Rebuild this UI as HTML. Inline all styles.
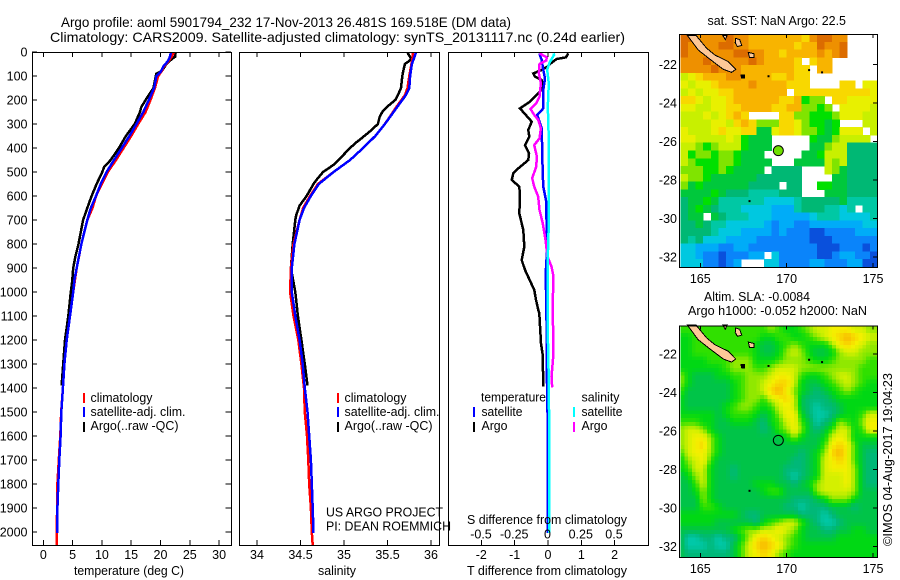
<!DOCTYPE html>
<html><head><meta charset="utf-8"><title>Argo profile</title>
<style>
html,body{margin:0;padding:0;background:#fff}
svg{display:block}
text{font-family:"Liberation Sans",sans-serif;font-size:12.5px;fill:#000}
.ttl{font-size:14px}
</style></head><body>
<svg id="chart" xmlns="http://www.w3.org/2000/svg" width="900" height="580" viewBox="0 0 900 580">
<rect width="900" height="580" fill="#fff"/>
<text class="ttl" x="61" y="27" textLength="450" lengthAdjust="spacingAndGlyphs">Argo profile: aoml 5901794_232 17-Nov-2013 26.481S 169.518E (DM data)</text>
<text class="ttl" x="50" y="42" textLength="575" lengthAdjust="spacingAndGlyphs">Climatology: CARS2009. Satellite-adjusted climatology: synTS_20131117.nc (0.24d earlier)</text>
<g id="profiles"></g>
<g id="maps"></g>

<g>
<rect x="83" y="393" width="2" height="10" fill="#f00"/>
<rect x="83" y="407" width="2" height="10" fill="#00f"/>
<rect x="83" y="422" width="2" height="10" fill="#000"/>
<text x="90.5" y="402" textLength="62" lengthAdjust="spacingAndGlyphs">climatology</text>
<text x="90.5" y="416" textLength="95" lengthAdjust="spacingAndGlyphs">satellite-adj. clim.</text>
<text x="90.5" y="430" textLength="88" lengthAdjust="spacingAndGlyphs">Argo(..raw -QC)</text>
</g>
<g>
<rect x="337" y="393" width="2" height="10" fill="#f00"/>
<rect x="337" y="407" width="2" height="10" fill="#00f"/>
<rect x="337" y="422" width="2" height="10" fill="#000"/>
<text x="344.5" y="402" textLength="62" lengthAdjust="spacingAndGlyphs">climatology</text>
<text x="344.5" y="416" textLength="95" lengthAdjust="spacingAndGlyphs">satellite-adj. clim.</text>
<text x="344.5" y="430" textLength="88" lengthAdjust="spacingAndGlyphs">Argo(..raw -QC)</text>
</g>
<text x="326" y="516.5" textLength="117" lengthAdjust="spacingAndGlyphs">US ARGO PROJECT</text>
<text x="326" y="530.5" textLength="125" lengthAdjust="spacingAndGlyphs">PI: DEAN ROEMMICH</text>
<g>
<text x="481" y="401.5" textLength="65" lengthAdjust="spacingAndGlyphs">temperature</text>
<rect x="473" y="407" width="2" height="10" fill="#00f"/>
<rect x="473" y="422" width="2" height="10" fill="#000"/>
<text x="481.5" y="416" textLength="41" lengthAdjust="spacingAndGlyphs">satellite</text>
<text x="481.5" y="430" textLength="26" lengthAdjust="spacingAndGlyphs">Argo</text>
<text x="581.5" y="401.5" textLength="38" lengthAdjust="spacingAndGlyphs">salinity</text>
<rect x="573" y="407" width="2" height="10" fill="#0ff"/>
<rect x="573" y="422" width="2" height="10" fill="#f0f"/>
<text x="581.5" y="416" textLength="41" lengthAdjust="spacingAndGlyphs">satellite</text>
<text x="581.5" y="430" textLength="26" lengthAdjust="spacingAndGlyphs">Argo</text>
</g>
<text x="467" y="524" textLength="160" lengthAdjust="spacingAndGlyphs">S difference from climatology</text>
<text x="467" y="575" textLength="160" lengthAdjust="spacingAndGlyphs">T difference from climatology</text>
<text x="74" y="575" textLength="110" lengthAdjust="spacingAndGlyphs">temperature (deg C)</text>
<text x="318" y="575" textLength="38" lengthAdjust="spacingAndGlyphs">salinity</text>
<text x="707.5" y="25" textLength="138.5" lengthAdjust="spacingAndGlyphs">sat. SST: NaN Argo: 22.5</text>
<text x="704" y="301" textLength="106" lengthAdjust="spacingAndGlyphs">Altim. SLA: -0.0084</text>
<text x="688" y="315" textLength="179" lengthAdjust="spacingAndGlyphs">Argo h1000: -0.052 h2000: NaN</text>
<text transform="translate(892,546) rotate(-90)" x="0" y="0" textLength="173" lengthAdjust="spacingAndGlyphs">©IMOS 04-Aug-2017 19:04:23</text>
</svg>
<script>
// ---------- chart data ----------
const depthTicks = [0,100,200,300,400,500,600,700,800,900,1000,1100,1200,1300,1400,1500,1600,1700,1800,1900,2000];
const tempTicks = [0,5,10,15,20,25,30];
const salTicks = [34,34.5,35,35.5,36];
const salTickLabels = ['34','34.5','35','35.5','36'];
const tDiffTicks = [-2,-1,0,1,2];
const sDiffTicks = [-0.5,-0.25,0,0.25,0.5];
const sDiffTickLabels = ['-0.5','-0.25','0','0.25','0.5'];
const lonTicks = [165,170,175];
const latTicks = [-22,-24,-26,-28,-30,-32];

const tClimDepth = [0,20,40,60,80,100,150,200,250,300,350,400,450,500,550,600,650,700,800,900,1000,1100,1200,1300,1400,1500,1600,1700,1800,1900,2000,2054];
const tClimValue = [22.3,21.9,21.3,20.6,20.2,19.6,19.05,18.3,17.45,16.2,15,13.7,12.4,11,10,9,8.4,7.5,6.5,5.7,5.1,4.55,4,3.6,3.35,3.05,2.9,2.65,2.4,2.35,2.3,2.25];
const tSatDepth = [0,20,40,60,80,100,150,200,250,300,350,400,450,500,550,600,650,700,750,800,850,900,950,1000,1100,1200,1300,1400,1500,1600,1700,1800,1900,2004];
const tSatValue = [21.8,21.6,21.2,20.5,20.1,19.3,18.9,18,17.06,15.9,14.7,13.4,12.06,10.8,9.8,9,8.1,7.5,7,6.5,6.1,5.7,5.3,5.1,4.55,4,3.6,3.35,3.07,2.96,2.73,2.56,2.4,2.4];
const tArgoDepth = [0,20,30,50,80,90,100,150,200,230,250,300,350,400,450,480,500,550,600,650,700,750,800,850,900,950,1000,1100,1200,1300,1390];
const tArgoValue = [22.6,22.5,21.9,21,20.2,19.3,19.2,18.8,17.46,16.7,16.5,15.6,14.1,12.9,11.5,10.35,10.07,9.1,8.25,7.5,6.8,6.4,6,5.5,5.1,4.95,4.7,4.27,3.7,3.4,3.13];

const sClimDepth = [0,20,40,100,150,180,220,300,350,400,450,500,550,600,650,700,800,900,1000,1100,1200,1300,1400,1500,1600,1700,1800,1900,2000,2054];
const sClimValue = [35.79,35.79,35.78,35.75,35.73,35.7,35.62,35.47,35.36,35.22,35.07,34.88,34.7,34.61,34.53,34.49,34.42,34.39,34.38,34.42,34.475,34.51,34.54,34.55,34.575,34.59,34.6,34.62,34.63,34.64];
const sSatDepth = [0,20,50,100,150,180,220,300,350,400,450,500,550,600,650,700,800,900,1000,1100,1200,1300,1400,1500,1600,1700,1800,1900,2004];
const sSatValue = [35.83,35.81,35.78,35.76,35.75,35.71,35.63,35.47,35.36,35.22,35.07,34.88,34.71,34.62,34.54,34.49,34.43,34.4,34.4,34.44,34.49,34.525,34.55,34.58,34.6,34.62,34.63,34.64,34.65];
const sArgoDepth = [0,10,20,30,40,50,80,100,150,180,200,230,250,270,300,330,360,380,400,430,470,500,530,550,600,640,680,700,800,900,1000,1100,1200,1300,1390];
const sArgoValue = [35.73,35.74,35.76,35.77,35.74,35.7,35.68,35.67,35.655,35.62,35.59,35.49,35.44,35.41,35.39,35.3,35.2,35.13,35.07,34.99,34.88,34.76,34.69,34.65,34.57,34.49,34.45,34.44,34.41,34.39,34.44,34.47,34.51,34.55,34.58];

const dtArgoDepth = [6,22,29,44,61,75,89,103,117,131,158,172,207,235,290,325,353,388,422,450,485,506,533,561,603,672,742,811,867,908,992,1033,1075,1089,1214,1262,1394];
const dtArgoValue = [0.61,0.54,0.26,0.11,-0.02,-0.19,-0.44,-0.39,-0.19,-0.16,-0.19,-0.29,-0.54,-0.84,-0.49,-0.59,-0.56,-0.69,-0.57,-0.59,-0.89,-1.04,-1.09,-0.86,-0.84,-0.86,-0.74,-0.71,-0.79,-0.69,-0.41,-0.36,-0.29,-0.26,-0.21,-0.16,-0.14];
const dtSatDepth = [6,33,75,110,158,235,262,318,506,561,617,728,853,922,1061,1172,1381,1547,1804,2005];
const dtSatValue = [-0.26,-0.19,-0.14,-0.09,-0.14,-0.14,-0.32,-0.19,-0.16,-0.14,-0.06,-0.04,-0.04,-0.07,-0.05,-0.04,-0.03,-0.01,-0.01,-0.01];
const dsArgoDepth = [6,22,36,50,89,131,186,214,237,262,283,318,360,388,436,478,526,561,603,658,714,783,853,894,936,1033,1089,1256,1353,1397];
const dsArgoValue = [-0.06,-0.005,-0.01,-0.06,-0.065,-0.05,-0.06,-0.085,-0.128,-0.1,-0.07,-0.05,-0.06,-0.1,-0.08,-0.085,-0.115,-0.1,-0.07,-0.06,-0.035,-0.015,0,0.03,0.045,0.04,0.04,0.045,0.03,0.035];
const dsSatDepth = [6,12,44,75,131,228,367,575,714,853,1061,1172,1381,1589,1867,2005];
const dsSatValue = [0.045,0.05,0.015,-0.002,0.01,0.002,0.01,0.01,0.01,0.002,0.002,0.002,0.01,0.0125,0.0125,0.0125];

// SST grid, north to south, coded temperature classes ('.' = no data)
const sstRows = [
"oonnnnonnmmmmmmmlnoonn....",
"onnnnoonnmmmmmmlmmonno....",
"onnnnnnoonnmmlmmmmnmno....",
"nnnonnnnnonmmmml.lmm......",
"nnnnonnnmmmmmmmll.mm......",
"jklmmmnnmmmmllmll.........",
"kjkklmmmmnmmmmlll....ll.kk",
"jkjkkllmmmmmmm.llllllllllk",
"llkjkklmmmmmmllmhii.llkkkk",
"kkjjkkllmmmmllmmiihi.kkkkj",
"jjjkjklml....lliihhhikkkjj",
"jjjjkkjlmliiillkihhgh...jj",
"kjjjklkkllggkllkiihghkkk.j",
"kkjjjjkjhggg.....hggijjjj.",
"jjihijjjhggg.....ggijjffff",
"jhiihiihggg.....gghjjjffff",
"jihhhiihgggg...ggggjijffff",
"iiihhihgggg.ffff...jigffff",
"jiihggggggffffff....ggffff",
"ighggggggffff.ff..hhggffff",
"gggghgfffeeeefff...gggffff",
"fgghgeeeeeeddddefffffgeeee",
"fghgfeeeddddcccefffeede.ee",
"fgg.gfeeedddcccccdeeedddde",
"ffgfeedddddcbccbbcccccccdd",
"ffffedddccccbcbbbaabbbbccc",
"fefdddccccbbbbbbbaaabbbbbb",
"ddcccbbccbbbbbbbbbaaabbbab",
"ddcbbabbbcc.dbbbbbaabccbba",
"dddbbabc...ddbbbbccbbbccaa"
];
// Sea-level-anomaly grid, north to south, coded 0 (low) .. 9 (high)
const slaRows = [
"4444444444 44543345 66777665",
"3344444444 43344334 56789876",
"3344444444 32234543 33578765",
"3344444444 32235653 22356655",
"3333444555 33345554 33455554",
"3333334555 44566655 55555544",
"5322233445 55677643 34566544",
"5322222345 56788632 23456543",
"4222222345 56897532 12345433",
"3222222345 54678621 11233333",
"3222223455 43467621 01123333",
"3333323444 32357731 00123346",
"4443322333 21346742 01254357",
"5665322222 21245752 12466347",
"5677532222 22223532 23676333",
"5678532222 22222222 24787422",
"4677532222 22222212 35897421",
"3567422222 22222112 36787421",
"3466322122 22221112 36777521",
"2356322122 22221012 36667521",
"2246322222 33322123 56667521",
"2235322222 23442222 56666522",
"2225322222 22222111 23555322",
"2224432222 22221101 11222122",
"3333333321 12222211 10122222",
"3333322222 13456642 10012222",
"2222222345 56676532 21122332",
"2001101135 78765432 22233333",
"2000100246 89875433 33333333",
"2111111246 78754333 33333333"
];
const sstPalette = {a:'#0a50dc',b:'#0a84fa',c:'#00acf8',d:'#00c8e0',e:'#00c8a4',f:'#00b874',g:'#00c83c',h:'#00e000',i:'#80e400',j:'#c8f000',k:'#e8f000',l:'#f8d800',m:'#f8b400',n:'#ee9000',o:'#dc6c00'};
const slaPalette = ['#00c8a8','#00b878','#00c448','#00d814','#30e000','#90e800','#d4f000','#f4f000','#f8d400','#f8b400'];

// Geography (lon, lat)
const mainLand = [[164.25,-20.5],[164.75,-20.5],[165.37,-21.17],[165.85,-21.52],[166.62,-21.86],[167.05,-22.26],[166.81,-22.42],[166.33,-22.26],[165.56,-21.74],[164.88,-21.26]];
const lifouIsland = [[167.05,-20.65],[167.28,-20.72],[167.4,-21.02],[167.15,-21.08],[167.02,-20.88]];
const mareIsland = [[167.78,-21.38],[168.1,-21.45],[168.1,-21.65],[167.85,-21.65]];
const ouveaIsland = [[166.3,-20.5],[166.55,-20.5],[166.45,-20.72]];
const pinesIsland = [[167.35,-22.55],[167.55,-22.55],[167.55,-22.72],[167.4,-22.72]];
const smallIslets = [[168.95,-22.62],[171.3,-22.3],[172.05,-22.42],[167.85,-29.1]];
const argoLon = 169.518;
const argoLat = -26.481;

// ---------- drawing ----------
const NS = 'http://www.w3.org/2000/svg';
const DEPTH_Y0 = 52, DEPTH_PX = 0.24, PLOT_BOTTOM = 545;
const yDepth = d => DEPTH_Y0 + d * DEPTH_PX;
const xTemp = v => 43.3 + v * 5.86;
const xSal = v => 257 + (v - 34) * 87;
const xDT = v => 548 + v * 33.33;
const xDS = v => 547.5 + v * 133;
const panels = document.getElementById('profiles');
const mapsG = document.getElementById('maps');

function mk(parent, tag, attrs, txt){
  const e = document.createElementNS(NS, tag);
  for (const k in attrs) e.setAttribute(k, attrs[k]);
  if (txt !== undefined) e.textContent = txt;
  parent.appendChild(e);
  return e;
}
function drawFrame(parent, x0, x1, y0, y1){
  const f = mk(parent, 'rect', {x:x0, y:y0, width:x1-x0, height:y1-y0, fill:'none', stroke:'#000', 'stroke-width':1, 'shape-rendering':'crispEdges'});
  
  
}
function drawTick(parent, x1, y1, x2, y2){
  const t = mk(parent, 'line', {x1, y1, x2, y2, stroke:'#000', 'stroke-width':1, 'shape-rendering':'crispEdges'});
  
  
}
function drawLabel(parent, x, y, s, anchor){
  const t = mk(parent, 'text', {x, y, 'text-anchor':anchor}, s);
  
  
}
function drawLine(parent, depths, values, xf, color, width, name, clipId){
  const pts = depths.map((d,i) => xf(values[i]).toFixed(1) + ',' + yDepth(d).toFixed(1)).join(' ');
  const l = mk(parent, 'polyline', {points:pts, fill:'none', stroke:color, 'stroke-width':width, 'stroke-linejoin':'miter', 'shape-rendering':'crispEdges', 'clip-path':'url(#'+clipId+')'});
  
  
}
const defs = mk(panels, 'defs', {});
function clip(id, x0, x1, y0, y1){
  const c = mk(defs, 'clipPath', {id});
  mk(c, 'rect', {x:x0, y:y0, width:x1-x0, height:y1-y0});
}
clip('c1',32.5,231,52,545); clip('c2',239.5,439,52,545); clip('c3',448.5,648.5,52,545);

// Panel 1
const p1 = mk(panels, 'g', {});


drawLine(p1, tArgoDepth, tArgoValue, xTemp, '#000', 2.5, 'temperature-argo-line', 'c1');
drawLine(p1, tClimDepth, tClimValue, xTemp, '#f00', 2.5, 'temperature-climatology-line', 'c1');
drawLine(p1, tSatDepth, tSatValue, xTemp, '#00f', 2.5, 'temperature-satellite-line', 'c1');
drawFrame(p1, 32.5, 231.5, 52.5, 545.5);
tempTicks.forEach(v => {
  drawTick(p1, xTemp(v), 52, xTemp(v), 57);
  drawTick(p1, xTemp(v), 545, xTemp(v), 540);
  drawLabel(p1, xTemp(v), 559, String(v), 'middle');
});
depthTicks.forEach(d => {
  drawTick(p1, 32, yDepth(d), 37, yDepth(d));
  drawTick(p1, 225.5, yDepth(d), 231, yDepth(d));
  drawLabel(p1, 27.5, yDepth(d)+4.5, String(d), 'end');
});

// Panel 2
const p2 = mk(panels, 'g', {});


drawLine(p2, sArgoDepth, sArgoValue, xSal, '#000', 2.5, 'salinity-argo-line', 'c2');
drawLine(p2, sClimDepth, sClimValue, xSal, '#f00', 2.5, 'salinity-climatology-line', 'c2');
drawLine(p2, sSatDepth, sSatValue, xSal, '#00f', 2.5, 'salinity-satellite-line', 'c2');
drawFrame(p2, 239.5, 439.5, 52.5, 545.5);
salTicks.forEach((v,i) => {
  drawTick(p2, xSal(v), 52, xSal(v), 57);
  drawTick(p2, xSal(v), 545, xSal(v), 540);
  drawLabel(p2, xSal(v), 559, salTickLabels[i], 'middle');
});

// Panel 3
const p3 = mk(panels, 'g', {});


drawLine(p3, dtArgoDepth, dtArgoValue, xDT, '#000', 2.5, 't-difference-argo-line', 'c3');
drawLine(p3, dtSatDepth, dtSatValue, xDT, '#00f', 2.5, 't-difference-satellite-line', 'c3');
drawLine(p3, dsArgoDepth, dsArgoValue, xDS, '#f0f', 2.5, 's-difference-argo-line', 'c3');
drawLine(p3, dsSatDepth, dsSatValue, xDS, '#0ff', 2.5, 's-difference-satellite-line', 'c3');
drawFrame(p3, 448.5, 648.5, 52.5, 545.5);
tDiffTicks.forEach(v => {
  drawTick(p3, xDT(v), 52, xDT(v), 57);
  drawTick(p3, xDT(v), 545, xDT(v), 540);
  drawLabel(p3, xDT(v), 559, String(v), 'middle');
});
sDiffTicks.forEach((v,i) => {
  drawLabel(p3, xDS(v), 538.5, sDiffTickLabels[i], 'middle');
});

// Maps
const xLon = lon => 700.3 + (lon - 165) * 17.27;
function drawMap(name, top, bottom, y22, drawCells){
  const g = mk(mapsG, 'g', {});
  
  
  const yLat = lat => y22 - (lat + 22) * 19.27;
  const left = 680.5, right = 877.5;
  drawCells(g, left, right, top, bottom);
  const poly = (pts, nm, fill) => {
    const p = mk(g, 'polygon', {points: pts.map(q => xLon(q[0]).toFixed(1)+','+yLat(q[1]).toFixed(1)).join(' '), fill:fill, stroke:'#000', 'stroke-width':1, 'shape-rendering':'crispEdges'});
    
    
  };
  poly(mainLand, 'new-caledonia-land', '#fdc898');
  poly(lifouIsland, 'lifou-island', '#fdc898');
  poly(mareIsland, 'mare-island', '#fdc898');
  poly(ouveaIsland, 'ouvea-island', '#fdc898');
  poly(pinesIsland, 'isle-of-pines', '#000');
  smallIslets.forEach(q => {
    const r = mk(g, 'rect', {x:xLon(q[0])-1, y:yLat(q[1])-1, width:2, height:2, fill:'#000'});
    
    
  });
  drawFrame(g, 679.5, 877.5, top+0.5, bottom+0.5);
  lonTicks.forEach(v => {
    drawTick(g, xLon(v), top, xLon(v), top+4);
    drawTick(g, xLon(v), bottom, xLon(v), bottom-4);
    drawLabel(g, xLon(v), bottom + 16, String(v), 'middle');
  });
  latTicks.forEach(v => {
    drawTick(g, 873, yLat(v), 877, yLat(v));
    drawLabel(g, 677, yLat(v)+4.5, String(v), 'end');
  });
  return {g, yLat};
}
const sstMap = drawMap('sst-map', 34, 267, 64.3, (g, l, r, t, b) => {
  const nr = sstRows.length, nc = 26;
  const cw = (r-l)/nc, ch = (b-t)/nr;
  sstRows.forEach((row, i) => {
    for (let j = 0; j < nc; j++){
      const col = sstPalette[row[j]];
      if (!col) continue;
      const c = mk(g, 'rect', {x:(l+j*cw).toFixed(2), y:(t+i*ch).toFixed(2), width:(cw+0.5).toFixed(2), height:(ch+0.5).toFixed(2), fill:col, 'shape-rendering':'crispEdges'});
      
      
    }
  });
});
const mark1 = mk(sstMap.g, 'circle', {cx:xLon(argoLon), cy:sstMap.yLat(argoLat), r:5, fill:'#6fe000', stroke:'#000', 'stroke-width':1});



function hex(c){ return [parseInt(c.slice(1,3),16),parseInt(c.slice(3,5),16),parseInt(c.slice(5,7),16)]; }
function slaColor(v){
  const i = Math.max(0, Math.min(slaPalette.length-2, Math.floor(v)));
  const f = Math.max(0, Math.min(1, v-i));
  const a = hex(slaPalette[i]), b = hex(slaPalette[i+1]);
  return 'rgb(' + a.map((q,k) => Math.round(q+(b[k]-q)*f)).join(',') + ')';
}
const slaGrid = slaRows.map(s => s.replace(/ /g,'').split('').map(Number));
const slaMap = drawMap('sla-map', 325.5, 557, 354, (g, l, r, t, b) => {
  const nr = slaGrid.length, nc = slaGrid[0].length, sub = 2;
  const cw = (r-l)/(nc*sub), ch = (b-t)/(nr*sub);
  for (let i = 0; i < nr*sub; i++){
    for (let j = 0; j < nc*sub; j++){
      const fy = Math.max(0, Math.min(nr-1.001, (i+0.5)/sub-0.5));
      const fx = Math.max(0, Math.min(nc-1.001, (j+0.5)/sub));
      const iy = Math.floor(fy), ix = Math.floor(fx), dy = fy-iy, dx = fx-ix;
      const v = slaGrid[iy][ix]*(1-dx)*(1-dy) + slaGrid[iy][ix+1]*dx*(1-dy) + slaGrid[iy+1][ix]*(1-dx)*dy + slaGrid[iy+1][ix+1]*dx*dy;
      const c = mk(g, 'rect', {x:(l+j*cw).toFixed(2), y:(t+i*ch).toFixed(2), width:(cw+0.5).toFixed(2), height:(ch+0.5).toFixed(2), fill:slaColor(v), 'shape-rendering':'crispEdges'});
      
      
    }
  }
});
const mark2 = mk(slaMap.g, 'circle', {cx:xLon(argoLon), cy:slaMap.yLat(argoLat), r:5, fill:'none', stroke:'#000', 'stroke-width':1});


</script>
</body></html>
